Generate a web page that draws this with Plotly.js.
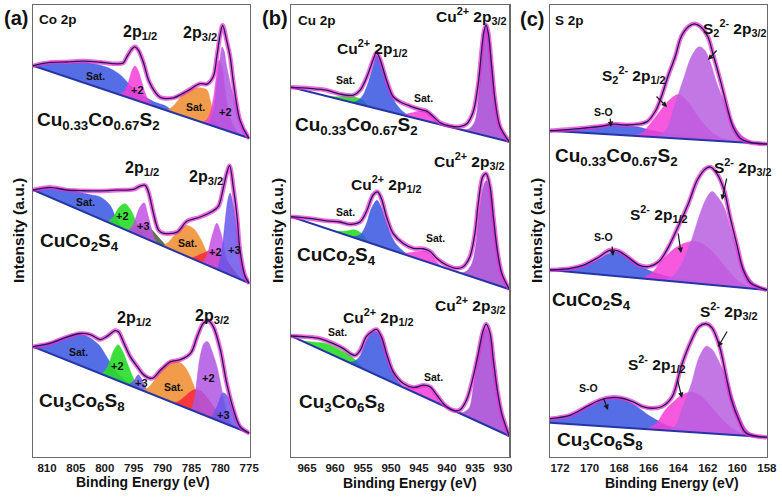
<!DOCTYPE html>
<html><head><meta charset="utf-8">
<script src="https://cdn.plot.ly/plotly-3.0.1.min.js"></script>
<style>html,body{margin:0;padding:0;background:#fff}#chart{width:782px;height:499px}</style>
</head><body><div id="chart"></div>
<script>
// ================= DATA (binding energy eV, net intensity above linear background, a.u.) =================
// ---- Panel (a) Co 2p ----
const coTicks = [810,805,800,795,790,785,780,775];
// Cu0.33Co0.67S2
const coBase1 = [[812.43,391.3],[774.95,318.7]];
const coEnv1 = [[812.43,0],[809.5,9],[806.6,15],[803.7,21.5],[800.8,26],[797.9,30],[796.8,33],[796.2,40],[795.3,50],[794.8,53],[794.2,51],[793.3,40],[792.4,24],[791.2,14],[790.4,11],[788.1,15],[785.8,26],[783.5,38],[782.3,40],[781.2,50],[780.6,71],[780.0,95],[779.6,104],[778.9,90],[778.3,75],[777.7,49],[776.6,15],[775.2,1],[774.95,0]];
const coSat1a = [[812.43,0],[809.5,8],[806.6,13.5],[803.3,21],[800.8,23],[799.1,23],[797.3,20],[795.6,13],[793.9,8],[791.6,4.5],[789.3,4],[788,0]];
const coP1a = [[797.5,0],[796.5,6],[795.8,18],[795.2,30],[794.75,34],[794.2,30],[793.6,20],[793,10],[792.3,3],[791.5,0]];
const coSat1b = [[789.2,0],[788.1,7],[787,17],[785.8,26],[784.6,31],[783.5,34],[782.3,34],[781.75,25],[781.2,13],[780.6,4],[780,0]];
const coPk1 = [[783,0],[782,8],[781.2,28],[780.6,55],[780.2,68],[779.7,62],[779.2,40],[778.5,18],[777.5,5],[776.5,0]];
const coV1 = [[782,0],[781.2,16],[780.6,44],[780,72],[779.7,82],[779.3,78],[778.9,64],[777.7,36],[776.6,15],[775.4,4],[774.95,1]];
// CuCo2S4
const coBase2 = [[812.43,267],[774.95,173.7]];
const coEnv2 = [[812.43,0],[809.5,10],[806.6,14.5],[803.7,21],[800.8,28],[797.9,36],[795.0,44],[793.9,50],[793.0,53],[792.4,47],[791.6,29],[790.7,14],[789.8,13],[787.5,20],[785.8,35],[783.5,45],[781.2,57],[780.3,64],[779.45,85],[778.9,100],[778.4,109],[777.7,87],[777.1,61],[776.6,29],[775.7,5],[774.95,0]];
const coSat2a = [[812.43,0],[810,8],[807,14],[804.85,17],[802.5,20],[800.8,22],[799.1,18],[797.9,6],[797,1],[796.5,0]];
const coG2 = [[799.5,0],[798.5,8],[797.5,20],[796.5,26],[795.5,22],[794.5,12],[793.5,4],[792.5,0]];
const coOl2 = [[796,0],[795,6],[794,12],[793,14],[792,12],[791,8],[790,4],[789,0]];
const coV2a = [[796,0],[795,10],[794,28],[793.2,35],[792.5,24],[791.7,8],[791,0]];
const coSat2b = [[790,0],[789,6],[788,15],[787,24],[785.8,31],[784.5,30],[783.5,24],[782.5,14],[781.5,5],[780.5,0]];
const coR2 = [[785,0],[784,5],[783,10],[782,15],[781.2,18],[780,16],[778.9,13],[778,8],[777,3],[776,0]];
const coM2 = [[783,0],[782.2,12],[781.4,32],[780.6,46],[779.9,38],[779.2,20],[778.5,6],[778,0]];
const coB2 = [[780.5,0],[779.8,18],[779.2,50],[778.7,74],[778.3,82],[777.8,72],[777.1,45],[776.5,22],[775.8,8],[775.1,2],[774.95,1]];
// Cu3Co6S8
const coBase3 = [[812.43,110.3],[774.95,23.7]];
const coEnv3 = [[812.43,0],[809.5,10],[806.6,23],[804.3,32],[802.5,35],[800.8,34],[799.6,40],[798.2,49],[797.6,49],[796.7,40],[795.6,29],[794.4,22],[793.2,16],[791.8,16],[790.3,28],[788.6,40],[786.9,46],[785.1,57],[784.0,76],[782.9,92],[782.0,96],[781.2,92],[780.0,72],[778.9,41],[777.7,17],[776.6,3],[774.95,0]];
const coSat3a = [[812.43,0],[810,9],[807,22],[805,30],[803,32],[801,28],[799.5,18],[798,8],[796,2],[795,0]];
const coG3 = [[800.5,0],[799.5,10],[798.5,28],[797.7,36],[797,32],[796,20],[795,8],[794,0]];
const coB3a = [[796,0],[795,6],[794.2,14],[793.3,8],[792.5,0]];
const coSat3b = [[793.5,0],[792.5,5],[791.5,14],[790.5,26],[789.5,36],[788.5,42],[787.5,43],[786.5,42],[785.5,36],[784.5,24],[783.8,12],[783.2,4],[782.5,0]];
const coR3 = [[788,0],[787,5],[786,12],[785,19],[784,23],[783,22],[782,17],[781,11],[780,5],[779,1],[778.5,0]];
const coV3 = [[785,0],[784.5,12],[784,35],[783.5,57],[782.8,72],[782.2,75],[781.5,68],[780.6,54],[779.5,26],[778.8,10],[778,2],[777.5,0]];
const coB3b = [[781.5,0],[780.5,15],[779.5,30],[778.7,28],[777.8,15],[776.8,4],[776,0]];

// ---- Panel (b) Cu 2p ----
const cuTicks = [965,960,955,950,945,940,935,930];
const cuBase1 = [[967.86,369.7],[928.86,315.3]];
const cuEnv1 = [[967.86,0],[964.5,3.6],[961.5,6],[959.1,5.4],[956.7,7.7],[955.5,14.4],[954.3,29.4],[953.2,47.7],[952.6,55.9],[952.0,51],[950.8,31],[949.6,16],[948.4,12.7],[946.6,10.9],[944.8,10],[943.6,10],[942.4,6],[941.2,1.7],[939.5,1],[937.7,2.7],[936.5,7],[935.3,21],[934.4,50.6],[933.8,84.8],[933.4,103.7],[933.0,110.8],[932.6,103],[932.0,70.6],[931.4,38],[930.5,12.7],[928.86,0]];
const cuG1 = [[961,0],[959,3],[957,6],[955,5],[954,0]];
const cuB1 = [[957,0],[956,3],[955,10],[954,25],[953,45],[952.6,53],[952,49],[951,33],[950,18],[949,9],[948,4],[946.5,0]];
const cuP1 = [[948,0],[946.5,4],[945,8],[943.8,9.5],[942.8,7],[941.8,2],[941,0]];
const cuV1 = [[937.5,0],[936,3],[935,12],[934.3,40],[933.8,78],[933.3,104],[933,108],[932.6,102],[932,72],[931.4,38],[930.8,18],[930,6],[928.86,0]];
const cuBase2 = [[967.86,240.3],[928.86,167.7]];
const cuEnv2 = [[967.86,0],[964.5,4.5],[961.5,7.7],[959.1,11],[957.3,12],[955.5,18],[954.4,30],[953.2,49],[952.4,53.6],[951.7,48],[950.8,31.7],[949.6,17],[947.8,10.6],[946.0,9],[944.2,12],[943.0,11.5],[941.8,6.7],[940.1,3.4],[938.3,3.4],[937.1,7.3],[935.9,19.5],[935.0,44.5],[934.4,75.6],[933.6,103.8],[933.0,108],[932.3,96],[931.7,67],[931.0,35],[930.2,13.4],[928.86,0]];
const cuG2 = [[960,0],[958,4],[956.5,8],[955,6],[954,0]];
const cuB2 = [[957,0],[955.5,5],[954.5,16],[953.5,35],[952.5,45],[951.8,40],[951,28],[950,15],[949,7],[947.5,2],[946.5,0]];
const cuP2 = [[948,0],[946.5,4],[945,8],[944,10],[943,9],[942,4],[941,0]];
const cuV2 = [[937.5,0],[936.5,4],[935.5,14],[934.8,35],[934.2,68],[933.5,94],[933,101],[932.5,96],[932,80],[931.3,48],[930.6,22],[929.8,8],[928.86,1]];
const cuBase3 = [[967.86,121],[928.86,21]];
const cuEnv3 = [[967.86,0],[965.1,6.2],[962.7,10.7],[960.3,11.8],[958.5,11.4],[957.3,9.5],[956.4,10],[955.5,17.4],[954.4,33.8],[953.2,42.9],[952.6,45.7],[951.7,40.7],[950.8,26.3],[949.6,11],[947.8,4],[946.0,4.6],[944.2,11.5],[943.0,12.9],[941.8,7.6],[940.4,1.4],[938.9,0],[937.7,3.3],[936.5,16.4],[935.3,42.8],[934.4,68.4],[933.6,92],[933.0,101.3],[932.3,93.8],[931.7,68.6],[931.0,40.5],[930.2,19],[928.86,0]];
const cuG3 = [[966,0],[964,4],[962,8],[960,9],[958,8],[956.5,6],[955.5,3],[954.5,0]];
const cuB3 = [[957.5,0],[956.5,4],[955.5,12],[954.5,28],[953.5,40],[952.6,43.5],[951.8,40],[951,28],[950,14],[949,5],[948,1],[947,0]];
const cuP3 = [[948,0],[946.5,3],[945,8],[944,11],[943,10.5],[942,6],[941,1],[940.5,0]];
const cuV3 = [[938,0],[937,3],[936,10],[935.3,32],[934.5,62],[933.8,86],[933,97],[932.4,90],[931.8,70],[931,40],[930.2,18],[929.5,7],[928.86,2]];

// ---- Panel (c) S 2p ----
const sTicks = [172,170,168,166,164,162,160,158];
const sBase1 = [[172.68,326.3],[158.0,313]];
const sEnv1 = [[172.68,0],[171.3,2.6],[170.2,5.2],[169.1,7.9],[168.4,10.5],[167.5,10.4],[166.7,11.9],[166.1,15],[165.5,27.2],[165.1,42.6],[164.7,61.4],[164.2,81.8],[163.8,102],[163.3,112.6],[162.9,115.7],[162.5,113.4],[162.0,103.8],[161.6,84.2],[161.1,58],[160.7,35],[160.3,15.4],[159.8,4.2],[159.1,0.5],[158.0,0]];
const sO1 = [[172.68,0],[171,3],[170,6],[169,9],[168.3,10.5],[167.5,10],[166.7,9],[166,7],[165,5],[164,3.5],[163,2.5],[162,1.5],[161,0.5],[160,0]];
const sP1 = [[167.5,0],[166.5,3],[165.8,15],[165.2,27],[164.6,38],[164,44],[163.4,38],[162.8,26],[162.2,15],[161.5,6],[160.8,2],[160,0]];
const sV1 = [[165.5,0],[164.8,8],[164.3,30],[163.6,62],[163.1,83],[162.6,93],[162.2,90],[161.8,77],[161.4,58],[160.9,40],[160.5,25],[160,12],[159.6,6],[159,1],[158.4,0]];
const sBase2 = [[172.68,187],[158.0,167]];
const sEnv2 = [[172.68,0],[171.3,3.5],[170.4,8],[169.5,16],[168.6,25.5],[168.0,25],[167.3,19],[166.7,13.3],[166.0,12.5],[165.3,18.5],[164.7,32.7],[164.0,55.3],[163.3,79.5],[162.7,103.8],[162.1,116.2],[161.8,117.7],[161.4,112.3],[160.9,96.3],[160.5,70.2],[160.0,40.8],[159.6,18.1],[159.1,5.4],[158.0,0]];
const sO2 = [[172.68,0],[171.5,3],[170.5,7],[169.5,14],[168.8,21],[168.3,24.5],[167.8,23],[167,17],[166.2,10],[165.3,6],[164.5,4],[163.5,3],[162.5,2],[161.5,1],[160.5,0]];
const sP2 = [[166.5,0],[165.8,6],[165.3,16],[164.4,31],[163.6,39],[162.9,42],[162.2,39],[161.4,29],[160.7,17],[160,7],[159.3,2],[158.6,0]];
const sV2 = [[165,0],[164.3,6],[163.7,20],[163.1,43],[162.5,71],[162.1,86],[161.7,93.5],[161.3,88],[160.9,79],[160.3,50],[159.6,21],[158.9,6],[158.0,1]];
const sBase3 = [[172.68,34.3],[158.0,19.7]];
const sEnv3 = [[172.68,4],[171.3,9],[170.2,18.5],[169.3,26],[168.4,29.6],[167.8,29.3],[167.1,26.6],[166.4,22.3],[165.8,21.3],[165.1,23.7],[164.4,34.3],[163.8,65],[163.1,92.3],[162.6,106],[162.1,109.4],[161.7,105.5],[161.2,87.6],[160.8,61.4],[160.4,35.2],[159.9,15.6],[159.4,2.8],[158.0,0]];
const sO3 = [[172.68,3],[171.5,8],[170.5,15],[169.5,23],[168.8,28],[168.2,29],[167.5,27],[166.7,21],[166,14],[165.2,8],[164.5,4],[163.5,2],[162.5,1],[161.5,0]];
const sP3 = [[166.2,0],[165.5,6],[164.9,20],[164.2,31],[163.6,38],[163,40],[162.4,36],[161.8,27],[161.1,16],[160.4,7],[159.7,2],[159,0]];
const sV3 = [[164.8,0],[164.2,5],[163.8,20],[163.1,49],[162.6,75],[162.1,87],[161.7,84],[161.4,77],[160.7,55],[160,25],[159.4,7],[158.8,1],[158.2,0]];

// ================= STYLE =================
const FAM = 'Liberation Sans, Arial, sans-serif';
const C = {
  blue:'rgba(55,85,225,0.85)', pink:'rgba(245,60,215,0.85)', orange:'rgba(240,145,55,0.9)',
  violet:'rgba(175,85,225,0.85)', green:'rgba(40,220,40,0.9)', olive:'rgba(50,85,35,0.8)',
  red:'rgba(250,45,60,0.9)', magenta:'rgba(195,80,230,0.85)', bviolet:'rgba(105,85,235,0.85)',
  cuviolet:'rgba(170,80,215,0.9)', spurple:'rgba(185,95,225,0.85)'
};

const traces = [];
function spectrum(ax, base, env, comps){
  const xa = ax===1?'x':'x'+ax, ya = ax===1?'y':'y'+ax;
  const bl = e => base[0][1] + (e-base[0][0])*(base[1][1]-base[0][1])/(base[1][0]-base[0][0]);
  comps.forEach(([pts,col])=>{
    const xs = pts.map(p=>p[0]);
    traces.push({type:'scatter',x:xs,y:xs.map(bl),xaxis:xa,yaxis:ya,mode:'lines',line:{width:0},hoverinfo:'skip',showlegend:false});
    traces.push({type:'scatter',x:xs,y:pts.map(p=>bl(p[0])+p[1]),xaxis:xa,yaxis:ya,mode:'lines',
      line:{width:0.5,color:col,shape:'spline',smoothing:0.9},fill:'tonexty',fillcolor:col,hoverinfo:'skip',showlegend:false});
  });
  traces.push({type:'scatter',x:base.map(p=>p[0]),y:base.map(p=>p[1]),xaxis:xa,yaxis:ya,mode:'lines',
    line:{color:'#2535a5',width:2},hoverinfo:'skip',showlegend:false});
  const ex = env.map(p=>p[0]), ey = env.map(p=>bl(p[0])+p[1]);
  traces.push({type:'scatter',x:ex,y:ey,xaxis:xa,yaxis:ya,mode:'lines',
    line:{color:'rgba(240,40,205,0.7)',width:4.5,shape:'spline',smoothing:0.9},hoverinfo:'skip',showlegend:false});
  traces.push({type:'scatter',x:ex,y:ey,xaxis:xa,yaxis:ya,mode:'lines',
    line:{color:'#1c1c5a',width:1.3,shape:'spline',smoothing:0.9},hoverinfo:'skip',showlegend:false});
}

spectrum(1, coBase1, coEnv1, [[coSat1a,C.blue],[coP1a,C.pink],[coSat1b,C.orange],[coPk1,C.pink],[coV1,C.violet]]);
spectrum(1, coBase2, coEnv2, [[coSat2a,C.blue],[coG2,C.green],[coOl2,C.olive],[coV2a,C.magenta],[coSat2b,C.orange],[coR2,C.red],[coM2,C.magenta],[coB2,C.bviolet]]);
spectrum(1, coBase3, coEnv3, [[coSat3a,C.blue],[coG3,C.green],[coB3a,C.bviolet],[coSat3b,C.orange],[coR3,C.red],[coV3,C.violet],[coB3b,C.bviolet]]);
spectrum(2, cuBase1, cuEnv1, [[cuG1,C.green],[cuB1,C.blue],[cuP1,C.pink],[cuV1,C.cuviolet]]);
spectrum(2, cuBase2, cuEnv2, [[cuG2,C.green],[cuB2,C.blue],[cuP2,C.pink],[cuV2,C.cuviolet]]);
spectrum(2, cuBase3, cuEnv3, [[cuG3,C.green],[cuB3,C.blue],[cuP3,C.pink],[cuV3,C.cuviolet]]);
spectrum(3, sBase1, sEnv1, [[sO1,C.blue],[sP1,C.pink],[sV1,C.spurple]]);
spectrum(3, sBase2, sEnv2, [[sO2,C.blue],[sP2,C.pink],[sV2,C.spurple]]);
spectrum(3, sBase3, sEnv3, [[sO3,C.blue],[sP3,C.pink],[sV3,C.spurple]]);

// ================= LAYOUT =================
const W = 782, H = 499;
const yDom = [1-457/H, 1-5/H];
const axBase = {showline:true, mirror:true, linecolor:'#6a6a6a', linewidth:1.2, showgrid:false, zeroline:false, ticks:'',
  tickfont:{family:FAM,size:11.5,color:'#1a1a1a',weight:'bold'}, fixedrange:true};
function xa(dom, range, tv, anchor){ return Object.assign({}, axBase, {domain:[dom[0]/W, dom[1]/W], range, tickvals:tv, ticktext:tv.map(String), anchor}); }
function ya(anchor){ return Object.assign({}, axBase, {domain:yDom, range:[0,452], showticklabels:false, anchor}); }

function ann(text, px, py, size, o){
  return Object.assign({text, x:px/W, y:1-py/H, xref:'paper', yref:'paper', showarrow:false, xanchor:'center', yanchor:'middle',
    font:{family:FAM, size, color:'#111', weight:'bold'}}, o||{});
}
function arrow(x1,y1,x2,y2){
  return {text:'', x:x2/W, y:1-y2/H, xref:'paper', yref:'paper', ax:x1-x2, ay:y1-y2, showarrow:true,
    arrowhead:2, arrowsize:0.9, arrowwidth:1.2, arrowcolor:'#1a1a1a'};
}
const L = {xanchor:'left'};
const f033 = 'Cu<sub>0.33</sub>Co<sub>0.67</sub>S<sub>2</sub>';
const f124 = 'CuCo<sub>2</sub>S<sub>4</sub>';
const f368 = 'Cu<sub>3</sub>Co<sub>6</sub>S<sub>8</sub>';
const annotations = [
  ann('(a)',16,18,20), ann('(b)',275,18,20), ann('(c)',532,19,20),
  ann('Co 2p',37,19,13.5,L), ann('Cu 2p',296,20,13.5,L), ann('S 2p',553,20,13.5,L),
  ann('Intensity (a.u.)',18,231,15.5,{textangle:-90}), ann('Intensity (a.u.)',277,231,15.5,{textangle:-90}), ann('Intensity (a.u.)',536,231,15.5,{textangle:-90}),
  ann('Binding Energy (eV)',143,482,14), ann('Binding Energy (eV)',410,483,14), ann('Binding Energy (eV)',672,483,14),
  // panel a
  ann('2p<sub>1/2</sub>',140,33,16), ann('2p<sub>3/2</sub>',200,34,16),
  ann('2p<sub>1/2</sub>',142,168,16), ann('2p<sub>3/2</sub>',206,177,16),
  ann('2p<sub>1/2</sub>',134,318,16), ann('2p<sub>3/2</sub>',212,316,16),
  ann('Sat.',95,76,10.5), ann('+2',137,90,11), ann('Sat.',195,107,10.5), ann('+2',226,112,11),
  ann('Sat.',85,202,10.5), ann('+2',123,216,11), ann('+3',143,226,11), ann('Sat.',187,243,10.5), ann('+2',216,252,11), ann('+3',234,250,11),
  ann('Sat.',78,352,10.5), ann('+2',118,366,11), ann('+3',141,383,11), ann('Sat.',173,387,10.5), ann('+2',208,378,11), ann('+3',223,415,11),
  ann(f033,35,121,19,L), ann(f124,38,242,19,L), ann(f368,37,402,19,L),
  // panel b
  ann('Cu<sup>2+</sup> 2p<sub>1/2</sub>',372,48,15.5), ann('Cu<sup>2+</sup> 2p<sub>3/2</sub>',471,16,15.5),
  ann('Cu<sup>2+</sup> 2p<sub>3/2</sub>',469,161,15.5), ann('Cu<sup>2+</sup> 2p<sub>1/2</sub>',386,184,15.5),
  ann('Cu<sup>2+</sup> 2p<sub>3/2</sub>',470,305,15.5), ann('Cu<sup>2+</sup> 2p<sub>1/2</sub>',378,317,15.5),
  ann('Sat.',345,80,10.5), ann('Sat.',423,98,10.5), ann('Sat.',345,212,10.5), ann('Sat.',435,238,10.5), ann('Sat.',337,332,10.5), ann('Sat.',433,377,10.5),
  ann(f033,293,126,19,L), ann(f124,295,256,19,L), ann(f368,297,403,19,L),
  // panel c
  ann('S<sub>2</sub><sup>2-</sup> 2p<sub>3/2</sub>',735,28,15.5), ann('S<sub>2</sub><sup>2-</sup> 2p<sub>1/2</sub>',634,75,15.5), ann('S-O',603,112,10.5),
  ann('S<sup>2-</sup> 2p<sub>3/2</sub>',742,167,15.5), ann('S<sup>2-</sup> 2p<sub>1/2</sub>',658,214,15.5), ann('S-O',603,237,10.5),
  ann('S<sup>2-</sup> 2p<sub>3/2</sub>',728,311,15.5), ann('S<sup>2-</sup> 2p<sub>1/2</sub>',656,364,15.5), ann('S-O',588,388,10.5),
  ann(f033,553,157,19,L), ann(f124,550,301,19,L), ann(f368,555,441,19,L),
  arrow(718,49,708,60), arrow(655,95,667,107), arrow(610,117,611,127),
  arrow(727,177,722,200), arrow(678,232,681,253), arrow(612,245,613,256),
  arrow(728,330,718,347), arrow(677,378,682,398), arrow(603,397,608,410)
];

const layout = {
  width:W, height:H, margin:{l:0,r:0,t:0,b:0}, paper_bgcolor:'#fff', plot_bgcolor:'#fff', showlegend:false,
  font:{family:FAM},
  xaxis: xa([33,249.5],[812.43,774.95],coTicks,'y'),
  yaxis: ya('x'),
  xaxis2: xa([291,509.3],[967.86,928.86],cuTicks,'y2'),
  yaxis2: ya('x2'),
  xaxis3: xa([550,767],[172.68,157.99],sTicks,'y3'),
  yaxis3: ya('x3'),
  annotations
};
Plotly.newPlot('chart', traces, layout, {displayModeBar:false, staticPlot:true});
</script>
</body></html>
